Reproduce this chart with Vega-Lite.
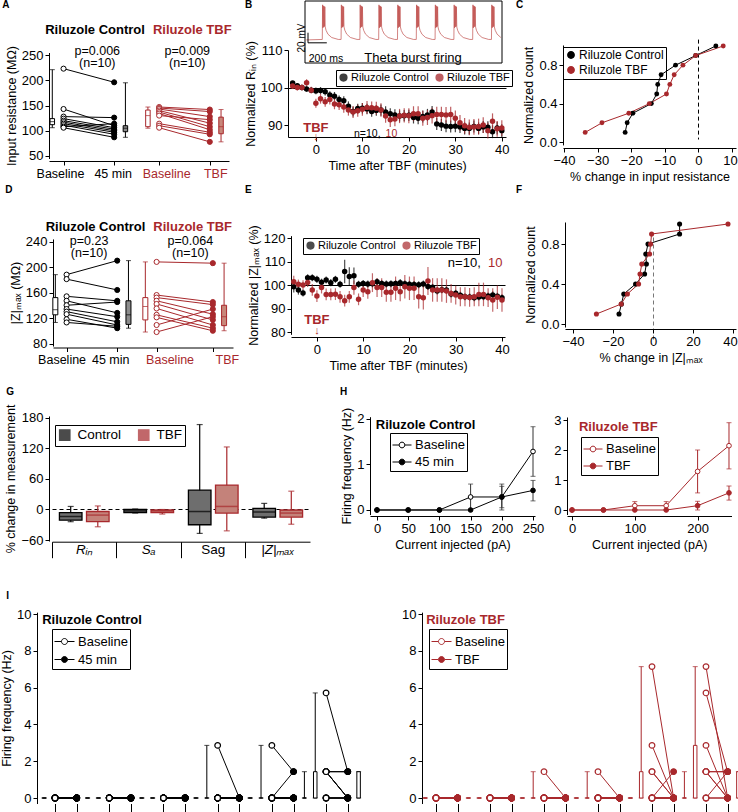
{
"$schema": "https://vega.github.io/schema/vega-lite/v6.json",
"padding": 0,
"background": "white",
"spacing": 0,
"resolve": {"scale": {"color": "independent", "fill": "independent", "stroke": "independent"}},
"config": {
 "font": "Liberation Sans",
 "view": {"stroke": null},
 "axis": {"grid": false, "domainColor": "black", "tickColor": "black", "labelColor": "black", "titleColor": "black", "labelFontSize": 13, "titleFontSize": 12.5, "titleFontWeight": "normal", "tickSize": 4, "labelPadding": 2, "titlePadding": 3, "labelOverlap": false, "labelFont": "Liberation Sans", "titleFont": "Liberation Sans", "domainWidth": 1, "tickWidth": 1},
 "legend": {"labelFont": "Liberation Sans", "labelColor": "black", "labelFontSize": 12},
 "text": {"font": "Liberation Sans", "fontSize": 13, "color": "black"}
},
"datasets": {
 "one": [{}],
 "Aw": [
  {"i":1,"g":"c","cb":223,"cp":196},{"i":2,"g":"c","cb":143,"cp":110},{"i":3,"g":"c","cb":128,"cp":126},{"i":4,"g":"c","cb":124,"cp":106},{"i":5,"g":"c","cb":120,"cp":103},{"i":6,"g":"c","cb":117,"cp":100},{"i":7,"g":"c","cb":114,"cp":97},{"i":8,"g":"c","cb":111,"cp":93},{"i":9,"g":"c","cb":108,"cp":114},{"i":10,"g":"c","cb":106,"cp":87},
  {"i":11,"g":"t","tb":147,"tp":142},{"i":12,"g":"t","tb":145,"tp":138},{"i":13,"g":"t","tb":143,"tp":128},{"i":14,"g":"t","tb":140,"tp":115},{"i":15,"g":"t","tb":137,"tp":108},{"i":16,"g":"t","tb":134,"tp":102},{"i":17,"g":"t","tb":130,"tp":122},{"i":18,"g":"t","tb":114,"tp":97},{"i":19,"g":"t","tb":110,"tp":93},{"i":20,"g":"t","tb":106,"tp":78}],
 "Ab": [
  {"s":"cbx","g":"c","lo":106,"q1":112,"md":118,"q3":124,"hi":221},
  {"s":"cpx","g":"c","lo":87,"q1":98,"md":105,"q3":110,"hi":195},
  {"s":"tbx","g":"t","lo":105,"q1":108,"md":130,"q3":141,"hi":147},
  {"s":"tpx","g":"t","lo":78,"q1":94,"md":108,"q3":127,"hi":142}],
 "Dw": [
  {"i":1,"g":"c","cb":188,"cp":210},{"i":2,"g":"c","cb":181,"cp":164},{"i":3,"g":"c","cb":154,"cp":147},{"i":4,"g":"c","cb":147,"cp":128},{"i":5,"g":"c","cb":140,"cp":145},{"i":6,"g":"c","cb":134,"cp":122},{"i":7,"g":"c","cb":130,"cp":114},{"i":8,"g":"c","cb":126,"cp":109},{"i":9,"g":"c","cb":118,"cp":104},{"i":10,"g":"c","cb":113,"cp":107},
  {"i":11,"g":"t","tb":208,"tp":206},{"i":12,"g":"t","tb":156,"tp":145},{"i":13,"g":"t","tb":152,"tp":141},{"i":14,"g":"t","tb":147,"tp":126},{"i":15,"g":"t","tb":142,"tp":117},{"i":16,"g":"t","tb":135,"tp":109},{"i":17,"g":"t","tb":125,"tp":104},{"i":18,"g":"t","tb":121,"tp":100},{"i":19,"g":"t","tb":109,"tp":134},{"i":20,"g":"t","tb":98,"tp":122}],
 "Db": [
  {"s":"cbx","g":"c","lo":113,"q1":125,"md":133,"q3":152,"hi":188},
  {"s":"cpx","g":"c","lo":104,"q1":110,"md":125,"q3":147,"hi":210},
  {"s":"tbx","g":"t","lo":98,"q1":117,"md":138,"q3":152,"hi":208},
  {"s":"tpx","g":"t","lo":100,"q1":108,"md":122,"q3":140,"hi":206}],
 "Bt": [
  {"t":-170,"v":-65},
  {"t":0,"v":-64},{"t":3,"v":8},{"t":7,"v":-40},{"t":11,"v":6},{"t":15,"v":-38},{"t":19,"v":5},{"t":23,"v":-37},{"t":27,"v":4},{"t":31,"v":-38},{"t":40,"v":-45},{"t":60,"v":-53},{"t":100,"v":-60},{"t":170,"v":-64},
  {"t":200,"v":-64},{"t":203,"v":8},{"t":207,"v":-40},{"t":211,"v":6},{"t":215,"v":-38},{"t":219,"v":5},{"t":223,"v":-37},{"t":227,"v":4},{"t":231,"v":-38},{"t":240,"v":-45},{"t":260,"v":-53},{"t":300,"v":-60},{"t":370,"v":-64},
  {"t":400,"v":-64},{"t":403,"v":8},{"t":407,"v":-40},{"t":411,"v":6},{"t":415,"v":-38},{"t":419,"v":5},{"t":423,"v":-37},{"t":427,"v":4},{"t":431,"v":-38},{"t":440,"v":-45},{"t":460,"v":-53},{"t":500,"v":-60},{"t":570,"v":-64},
  {"t":600,"v":-64},{"t":603,"v":8},{"t":607,"v":-40},{"t":611,"v":6},{"t":615,"v":-38},{"t":619,"v":5},{"t":623,"v":-37},{"t":627,"v":4},{"t":631,"v":-38},{"t":640,"v":-45},{"t":660,"v":-53},{"t":700,"v":-60},{"t":770,"v":-64},
  {"t":800,"v":-64},{"t":803,"v":8},{"t":807,"v":-40},{"t":811,"v":6},{"t":815,"v":-38},{"t":819,"v":5},{"t":823,"v":-37},{"t":827,"v":4},{"t":831,"v":-38},{"t":840,"v":-45},{"t":860,"v":-53},{"t":900,"v":-60},{"t":970,"v":-64},
  {"t":1000,"v":-64},{"t":1003,"v":8},{"t":1007,"v":-40},{"t":1011,"v":6},{"t":1015,"v":-38},{"t":1019,"v":5},{"t":1023,"v":-37},{"t":1027,"v":4},{"t":1031,"v":-38},{"t":1040,"v":-45},{"t":1060,"v":-53},{"t":1100,"v":-60},{"t":1170,"v":-64},
  {"t":1200,"v":-64},{"t":1203,"v":8},{"t":1207,"v":-40},{"t":1211,"v":6},{"t":1215,"v":-38},{"t":1219,"v":5},{"t":1223,"v":-37},{"t":1227,"v":4},{"t":1231,"v":-38},{"t":1240,"v":-45},{"t":1260,"v":-53},{"t":1300,"v":-60},{"t":1370,"v":-64},
  {"t":1400,"v":-64},{"t":1403,"v":8},{"t":1407,"v":-40},{"t":1411,"v":6},{"t":1415,"v":-38},{"t":1419,"v":5},{"t":1423,"v":-37},{"t":1427,"v":4},{"t":1431,"v":-38},{"t":1440,"v":-45},{"t":1460,"v":-53},{"t":1500,"v":-60},{"t":1570,"v":-64},
  {"t":1600,"v":-64},{"t":1603,"v":8},{"t":1607,"v":-40},{"t":1611,"v":6},{"t":1615,"v":-38},{"t":1619,"v":5},{"t":1623,"v":-37},{"t":1627,"v":4},{"t":1631,"v":-38},{"t":1640,"v":-45},{"t":1660,"v":-53},{"t":1700,"v":-60},{"t":1770,"v":-64},
  {"t":1800,"v":-64},{"t":1803,"v":8},{"t":1807,"v":-40},{"t":1811,"v":6},{"t":1815,"v":-38},{"t":1819,"v":5},{"t":1823,"v":-37},{"t":1827,"v":4},{"t":1831,"v":-38},{"t":1840,"v":-45},{"t":1860,"v":-53},{"t":1900,"v":-60}],
 "B": [
  {"t":-5,"g":"C","m":101.2,"e":0.5},{"t":-4,"g":"C","m":100.5,"e":0.6},{"t":-3,"g":"C","m":100.0,"e":0.6},{"t":-2,"g":"C","m":99.6,"e":0.7},{"t":-1,"g":"C","m":99.3,"e":0.7},{"t":0,"g":"C","m":99.1,"e":0.9},{"t":1,"g":"C","m":99.2,"e":0.9},{"t":2,"g":"C","m":98.9,"e":1.0},{"t":3,"g":"C","m":98.0,"e":1.0},{"t":4,"g":"C","m":97.7,"e":1.1},{"t":5,"g":"C","m":96.8,"e":1.1},{"t":6,"g":"C","m":96.5,"e":1.2},{"t":7,"g":"C","m":95.0,"e":1.3},{"t":8,"g":"C","m":93.6,"e":1.3},{"t":9,"g":"C","m":94.4,"e":1.3},{"t":10,"g":"C","m":94.5,"e":1.4},{"t":11,"g":"C","m":94.3,"e":1.4},{"t":12,"g":"C","m":93.6,"e":1.4},{"t":13,"g":"C","m":93.9,"e":1.4},{"t":14,"g":"C","m":94.0,"e":1.5},{"t":15,"g":"C","m":93.5,"e":1.5},{"t":16,"g":"C","m":93.0,"e":1.5},{"t":17,"g":"C","m":92.7,"e":1.5},{"t":18,"g":"C","m":92.4,"e":1.5},{"t":19,"g":"C","m":92.5,"e":1.5},{"t":20,"g":"C","m":92.6,"e":1.5},{"t":21,"g":"C","m":92.0,"e":1.6},{"t":22,"g":"C","m":91.8,"e":1.6},{"t":23,"g":"C","m":92.3,"e":1.6},{"t":24,"g":"C","m":92.7,"e":1.6},{"t":25,"g":"C","m":93.5,"e":1.6},{"t":26,"g":"C","m":90.3,"e":1.6},{"t":27,"g":"C","m":90.0,"e":1.6},{"t":28,"g":"C","m":89.7,"e":1.6},{"t":29,"g":"C","m":89.6,"e":1.6},{"t":30,"g":"C","m":89.7,"e":1.6},{"t":31,"g":"C","m":89.5,"e":1.6},{"t":32,"g":"C","m":89.1,"e":1.6},{"t":33,"g":"C","m":89.1,"e":1.6},{"t":34,"g":"C","m":89.6,"e":1.6},{"t":35,"g":"C","m":89.1,"e":1.6},{"t":36,"g":"C","m":89.5,"e":1.6},{"t":37,"g":"C","m":89.4,"e":1.6},{"t":38,"g":"C","m":88.2,"e":1.7},{"t":39,"g":"C","m":89.2,"e":1.7},{"t":40,"g":"C","m":88.5,"e":1.7},
  {"t":-5,"g":"T","m":100.4,"e":0.8},{"t":-4,"g":"T","m":100.0,"e":0.8},{"t":-3,"g":"T","m":100.0,"e":0.8},{"t":-2,"g":"T","m":101.3,"e":0.9},{"t":-1,"g":"T","m":99.3,"e":0.9},{"t":0,"g":"T","m":95.8,"e":1.2},{"t":1,"g":"T","m":97.0,"e":1.3},{"t":2,"g":"T","m":96.2,"e":1.3},{"t":3,"g":"T","m":96.8,"e":1.3},{"t":4,"g":"T","m":95.6,"e":1.4},{"t":5,"g":"T","m":95.4,"e":1.4},{"t":6,"g":"T","m":94.8,"e":1.5},{"t":7,"g":"T","m":94.0,"e":1.5},{"t":8,"g":"T","m":93.5,"e":1.6},{"t":9,"g":"T","m":93.8,"e":1.6},{"t":10,"g":"T","m":94.2,"e":1.7},{"t":11,"g":"T","m":94.7,"e":1.7},{"t":12,"g":"T","m":94.6,"e":1.7},{"t":13,"g":"T","m":94.5,"e":1.7},{"t":14,"g":"T","m":94.0,"e":1.8},{"t":15,"g":"T","m":92.4,"e":1.8},{"t":16,"g":"T","m":91.4,"e":1.9},{"t":17,"g":"T","m":91.6,"e":1.9},{"t":18,"g":"T","m":92.4,"e":1.9},{"t":19,"g":"T","m":92.6,"e":1.9},{"t":20,"g":"T","m":92.5,"e":2.0},{"t":21,"g":"T","m":93.0,"e":2.0},{"t":22,"g":"T","m":93.0,"e":2.0},{"t":23,"g":"T","m":91.8,"e":2.0},{"t":24,"g":"T","m":92.0,"e":2.0},{"t":25,"g":"T","m":92.5,"e":2.1},{"t":26,"g":"T","m":92.8,"e":2.1},{"t":27,"g":"T","m":92.8,"e":2.1},{"t":28,"g":"T","m":92.7,"e":2.1},{"t":29,"g":"T","m":92.8,"e":2.1},{"t":30,"g":"T","m":91.8,"e":2.1},{"t":31,"g":"T","m":90.6,"e":2.1},{"t":32,"g":"T","m":89.8,"e":2.1},{"t":33,"g":"T","m":89.4,"e":2.1},{"t":34,"g":"T","m":89.5,"e":2.1},{"t":35,"g":"T","m":89.6,"e":2.1},{"t":36,"g":"T","m":90.0,"e":2.1},{"t":37,"g":"T","m":88.5,"e":2.1},{"t":38,"g":"T","m":91.0,"e":2.1},{"t":39,"g":"T","m":89.0,"e":2.1},{"t":40,"g":"T","m":89.2,"e":2.1}],
 "E": [
  {"t":-5,"g":"C","m":99.3,"e":2.5},{"t":-4,"g":"C","m":97.9,"e":2},{"t":-3,"g":"C","m":96.6,"e":1.5},{"t":-2,"g":"C","m":103.1,"e":1.5},{"t":-1,"g":"C","m":103.1,"e":1.5},{"t":0,"g":"C","m":102.4,"e":1.5},{"t":1,"g":"C","m":101.2,"e":1.5},{"t":2,"g":"C","m":102.1,"e":1.5},{"t":3,"g":"C","m":101.0,"e":1.5},{"t":4,"g":"C","m":102.4,"e":1.5},{"t":5,"g":"C","m":100.3,"e":1.5},{"t":6,"g":"C","m":105.7,"e":5},{"t":7,"g":"C","m":103.6,"e":4},{"t":8,"g":"C","m":103.9,"e":3.5},{"t":9,"g":"C","m":100.3,"e":1.5},{"t":10,"g":"C","m":100.6,"e":1.5},{"t":11,"g":"C","m":100.4,"e":1.5},{"t":12,"g":"C","m":100.5,"e":1.5},{"t":13,"g":"C","m":101.4,"e":1.5},{"t":14,"g":"C","m":100.6,"e":1.5},{"t":15,"g":"C","m":100.4,"e":1.5},{"t":16,"g":"C","m":100.5,"e":1.5},{"t":17,"g":"C","m":100.6,"e":1.5},{"t":18,"g":"C","m":101.0,"e":1.5},{"t":19,"g":"C","m":100.5,"e":1.5},{"t":20,"g":"C","m":100.3,"e":1.5},{"t":21,"g":"C","m":100.2,"e":1.5},{"t":22,"g":"C","m":100.1,"e":1.5},{"t":23,"g":"C","m":100.4,"e":1.5},{"t":24,"g":"C","m":99.4,"e":1.5},{"t":25,"g":"C","m":99.0,"e":1.5},{"t":26,"g":"C","m":97.5,"e":1.5},{"t":27,"g":"C","m":98.0,"e":1.5},{"t":28,"g":"C","m":97.9,"e":1.5},{"t":29,"g":"C","m":96.2,"e":1.5},{"t":30,"g":"C","m":96.5,"e":1.5},{"t":31,"g":"C","m":95.6,"e":1.5},{"t":32,"g":"C","m":95.0,"e":1.5},{"t":33,"g":"C","m":94.9,"e":1.5},{"t":34,"g":"C","m":94.6,"e":1.5},{"t":35,"g":"C","m":94.9,"e":1.5},{"t":36,"g":"C","m":95.0,"e":1.5},{"t":37,"g":"C","m":95.3,"e":1.5},{"t":38,"g":"C","m":95.8,"e":1.5},{"t":39,"g":"C","m":95.2,"e":1.5},{"t":40,"g":"C","m":94.6,"e":1.5},
  {"t":-5,"g":"T","m":101.4,"e":2.5},{"t":-4,"g":"T","m":100.3,"e":2},{"t":-3,"g":"T","m":100.0,"e":2},{"t":-2,"g":"T","m":101.1,"e":2},{"t":-1,"g":"T","m":97.9,"e":2.5},{"t":0,"g":"T","m":95.3,"e":2.5},{"t":1,"g":"T","m":98.9,"e":2.5},{"t":2,"g":"T","m":96.0,"e":2.5},{"t":3,"g":"T","m":96.0,"e":2.5},{"t":4,"g":"T","m":96.1,"e":2.5},{"t":5,"g":"T","m":95.0,"e":2.5},{"t":6,"g":"T","m":93.3,"e":2.5},{"t":7,"g":"T","m":95.0,"e":2.5},{"t":8,"g":"T","m":98.9,"e":3},{"t":9,"g":"T","m":93.9,"e":2.5},{"t":10,"g":"T","m":97.9,"e":3},{"t":11,"g":"T","m":97.1,"e":3},{"t":12,"g":"T","m":101.0,"e":4},{"t":13,"g":"T","m":98.9,"e":4},{"t":14,"g":"T","m":98.9,"e":4},{"t":15,"g":"T","m":96.9,"e":4},{"t":16,"g":"T","m":96.9,"e":4},{"t":17,"g":"T","m":98.6,"e":5},{"t":18,"g":"T","m":97.1,"e":4},{"t":19,"g":"T","m":99.3,"e":5},{"t":20,"g":"T","m":98.6,"e":5},{"t":21,"g":"T","m":98.6,"e":5},{"t":22,"g":"T","m":95.0,"e":5},{"t":23,"g":"T","m":94.6,"e":5},{"t":24,"g":"T","m":101.7,"e":6},{"t":25,"g":"T","m":97.9,"e":5},{"t":26,"g":"T","m":97.9,"e":5},{"t":27,"g":"T","m":97.9,"e":5},{"t":28,"g":"T","m":97.4,"e":5},{"t":29,"g":"T","m":96.4,"e":4},{"t":30,"g":"T","m":95.7,"e":4},{"t":31,"g":"T","m":95.0,"e":4},{"t":32,"g":"T","m":95.0,"e":4},{"t":33,"g":"T","m":94.7,"e":4},{"t":34,"g":"T","m":95.0,"e":4},{"t":35,"g":"T","m":96.0,"e":5},{"t":36,"g":"T","m":96.0,"e":5},{"t":37,"g":"T","m":94.6,"e":4},{"t":38,"g":"T","m":93.6,"e":5},{"t":39,"g":"T","m":94.8,"e":5},{"t":40,"g":"T","m":93.6,"e":5}],
 "C": [
  {"g":"C","p":-21.8,"n":0.1},{"g":"C","p":-21.2,"n":0.2},{"g":"C","p":-19.5,"n":0.3},{"g":"C","p":-14,"n":0.4},{"g":"C","p":-12.4,"n":0.5},{"g":"C","p":-12.1,"n":0.6},{"g":"C","p":-11.1,"n":0.7},{"g":"C","p":-6.8,"n":0.8},{"g":"C","p":-0.8,"n":0.9},{"g":"C","p":5.2,"n":1.0},
  {"g":"T","p":-33.7,"n":0.1},{"g":"T","p":-28.7,"n":0.2},{"g":"T","p":-20.7,"n":0.3},{"g":"T","p":-14.6,"n":0.4},{"g":"T","p":-9.5,"n":0.5},{"g":"T","p":-8.5,"n":0.6},{"g":"T","p":-7.2,"n":0.7},{"g":"T","p":-4.6,"n":0.8},{"g":"T","p":-0.8,"n":0.9},{"g":"T","p":7.4,"n":1.0}],
 "F": [
  {"g":"C","p":-17,"n":0.1},{"g":"C","p":-15.8,"n":0.2},{"g":"C","p":-14.6,"n":0.3},{"g":"C","p":-8.7,"n":0.4},{"g":"C","p":-4.2,"n":0.5},{"g":"C","p":-3.3,"n":0.6},{"g":"C","p":-3.6,"n":0.7},{"g":"C","p":-2.5,"n":0.8},{"g":"C","p":13.3,"n":0.9},{"g":"C","p":13.3,"n":1.0},
  {"g":"T","p":-28.3,"n":0.1},{"g":"T","p":-15.9,"n":0.2},{"g":"T","p":-12.8,"n":0.3},{"g":"T","p":-7.2,"n":0.4},{"g":"T","p":-6.5,"n":0.5},{"g":"T","p":-5.6,"n":0.6},{"g":"T","p":-1.7,"n":0.7},{"g":"T","p":-1.2,"n":0.8},{"g":"T","p":-0.7,"n":0.9},{"g":"T","p":37.5,"n":1.0}],
 "G": [
  {"c":"Rin","g":"Control","lo":-24,"q1":-21,"md":-14,"q3":-6,"hi":6},
  {"c":"Rin","g":"TBF","lo":-34,"q1":-24,"md":-11,"q3":-4,"hi":7},
  {"c":"Sa","g":"Control","lo":-7,"q1":-6,"md":-3,"q3":0,"hi":1},
  {"c":"Sa","g":"TBF","lo":-9,"q1":-6,"md":-3,"q3":-1,"hi":0},
  {"c":"Sag","g":"Control","lo":-47,"q1":-30,"md":-4,"q3":38,"hi":167},
  {"c":"Sag","g":"TBF","lo":-42,"q1":-7,"md":6,"q3":48,"hi":123},
  {"c":"Zmax","g":"Control","lo":-17,"q1":-15,"md":-5,"q3":2,"hi":12},
  {"c":"Zmax","g":"TBF","lo":-29,"q1":-15,"md":-7,"q3":-1,"hi":36}],
 "Glab": [{"c":"Rin","t":"Rᵢₙ","it":1},{"c":"Sa","t":"Sₐ","it":1},{"c":"Sag","t":"Sag","it":0},{"c":"Zmax","t":"|Z|ₘₐₓ","it":1}],
 "H1": [
  {"c":0,"k":"Baseline","m":0},{"c":50,"k":"Baseline","m":0},{"c":100,"k":"Baseline","m":0},{"c":150,"k":"Baseline","m":0.286,"lo":0,"hi":0.57},{"c":200,"k":"Baseline","m":0.286,"lo":0,"hi":0.57},{"c":250,"k":"Baseline","m":1.286,"lo":0.74,"hi":1.83},
  {"c":0,"k":"45 min","m":0},{"c":50,"k":"45 min","m":0},{"c":100,"k":"45 min","m":0},{"c":150,"k":"45 min","m":0},{"c":200,"k":"45 min","m":0.286,"lo":0.05,"hi":0.52},{"c":250,"k":"45 min","m":0.43,"lo":0.2,"hi":0.65}],
 "H2": [
  {"c":0,"k":"Baseline","m":0},{"c":50,"k":"Baseline","m":0},{"c":100,"k":"Baseline","m":0.143,"lo":0.01,"hi":0.28},{"c":150,"k":"Baseline","m":0.143,"lo":0.01,"hi":0.28},{"c":200,"k":"Baseline","m":1.286,"lo":0.57,"hi":2.0},{"c":250,"k":"Baseline","m":2.143,"lo":1.37,"hi":2.91},
  {"c":0,"k":"TBF","m":0},{"c":50,"k":"TBF","m":0},{"c":100,"k":"TBF","m":0},{"c":150,"k":"TBF","m":0},{"c":200,"k":"TBF","m":0.143,"lo":0.0,"hi":0.29},{"c":250,"k":"TBF","m":0.571,"lo":0.33,"hi":0.8}],
 "I1": [
  {"i":1,"b0":0,"p0":0,"b50":0,"p50":0,"b100":0,"p100":0,"b150":2.86,"p150":0,"b200":2.86,"p200":1.43,"b250":5.71,"p250":1.43},
  {"i":2,"b0":0,"p0":0,"b50":0,"p50":0,"b100":0,"p100":0,"b150":0,"p150":0,"b200":0,"p200":1.43,"b250":1.43,"p250":1.43},
  {"i":3,"b0":0,"p0":0,"b50":0,"p50":0,"b100":0,"p100":0,"b150":0,"p150":0,"b200":0,"p200":0,"b250":1.43,"p250":1.43},
  {"i":4,"b0":0,"p0":0,"b50":0,"p50":0,"b100":0,"p100":0,"b150":0,"p150":0,"b200":0,"p200":0,"b250":1.43,"p250":0},
  {"i":5,"b0":0,"p0":0,"b50":0,"p50":0,"b100":0,"p100":0,"b150":0,"p150":0,"b200":0,"p200":0,"b250":1.43,"p250":0},
  {"i":6,"b0":0,"p0":0,"b50":0,"p50":0,"b100":0,"p100":0,"b150":0,"p150":0,"b200":0,"p200":0,"b250":1.43,"p250":0},
  {"i":7,"b0":0,"p0":0,"b50":0,"p50":0,"b100":0,"p100":0,"b150":0,"p150":0,"b200":0,"p200":0,"b250":0,"p250":0},
  {"i":8,"b0":0,"p0":0,"b50":0,"p50":0,"b100":0,"p100":0,"b150":0,"p150":0,"b200":0,"p200":0,"b250":0,"p250":0},
  {"i":9,"b0":0,"p0":0,"b50":0,"p50":0,"b100":0,"p100":0,"b150":0,"p150":0,"b200":0,"p200":0,"b250":0,"p250":0},
  {"i":10,"b0":0,"p0":0,"b50":0,"p50":0,"b100":0,"p100":0,"b150":0,"p150":0,"b200":0,"p200":0,"b250":0,"p250":0}],
 "I2": [
  {"i":1,"b0":0,"p0":0,"b50":0,"p50":0,"b100":1.43,"p100":0,"b150":1.43,"p150":0,"b200":7.14,"p200":0,"b250":7.14,"p250":0},
  {"i":2,"b0":0,"p0":0,"b50":0,"p50":0,"b100":0,"p100":0,"b150":0,"p150":0,"b200":2.86,"p200":0,"b250":5.71,"p250":1.43},
  {"i":3,"b0":0,"p0":0,"b50":0,"p50":0,"b100":0,"p100":0,"b150":0,"p150":0,"b200":1.43,"p200":0,"b250":2.86,"p250":0},
  {"i":4,"b0":0,"p0":0,"b50":0,"p50":0,"b100":0,"p100":0,"b150":0,"p150":0,"b200":1.43,"p200":0,"b250":1.43,"p250":1.43},
  {"i":5,"b0":0,"p0":0,"b50":0,"p50":0,"b100":0,"p100":0,"b150":0,"p150":0,"b200":0,"p200":1.43,"b250":1.43,"p250":1.43},
  {"i":6,"b0":0,"p0":0,"b50":0,"p50":0,"b100":0,"p100":0,"b150":0,"p150":0,"b200":0,"p200":0,"b250":1.43,"p250":0},
  {"i":7,"b0":0,"p0":0,"b50":0,"p50":0,"b100":0,"p100":0,"b150":0,"p150":0,"b200":0,"p200":0,"b250":1.43,"p250":0},
  {"i":8,"b0":0,"p0":0,"b50":0,"p50":0,"b100":0,"p100":0,"b150":0,"p150":0,"b200":0,"p200":0,"b250":0,"p250":1.43},
  {"i":9,"b0":0,"p0":0,"b50":0,"p50":0,"b100":0,"p100":0,"b150":0,"p150":0,"b200":0,"p200":0,"b250":0,"p250":0},
  {"i":10,"b0":0,"p0":0,"b50":0,"p50":0,"b100":0,"p100":0,"b150":0,"p150":0,"b200":0,"p200":0,"b250":0,"p250":0}],
 "I1b": [
  {"s":"a0","lo":0,"q1":0,"q3":0,"hi":0},{"s":"q0","lo":0,"q1":0,"q3":0,"hi":0},
  {"s":"a50","lo":0,"q1":0,"q3":0,"hi":0},{"s":"q50","lo":0,"q1":0,"q3":0,"hi":0},
  {"s":"a100","lo":0,"q1":0,"q3":0,"hi":0},{"s":"q100","lo":0,"q1":0,"q3":0,"hi":0},
  {"s":"a150","lo":0,"q1":0,"q3":0,"hi":2.86},{"s":"q150","lo":0,"q1":0,"q3":0,"hi":0},
  {"s":"a200","lo":0,"q1":0,"q3":0,"hi":2.86},{"s":"q200","lo":0,"q1":0,"q3":0,"hi":1.43},
  {"s":"a250","lo":0,"q1":0,"q3":1.43,"hi":5.71},{"s":"q250","lo":0,"q1":0,"q3":1.43,"hi":1.43}],
 "I2b": [
  {"s":"a0","lo":0,"q1":0,"q3":0,"hi":0},{"s":"q0","lo":0,"q1":0,"q3":0,"hi":0},
  {"s":"a50","lo":0,"q1":0,"q3":0,"hi":0},{"s":"q50","lo":0,"q1":0,"q3":0,"hi":0},
  {"s":"a100","lo":0,"q1":0,"q3":0,"hi":1.43},{"s":"q100","lo":0,"q1":0,"q3":0,"hi":0},
  {"s":"a150","lo":0,"q1":0,"q3":0,"hi":1.43},{"s":"q150","lo":0,"q1":0,"q3":0,"hi":0},
  {"s":"a200","lo":0,"q1":0,"q3":1.43,"hi":7.14},{"s":"q200","lo":0,"q1":0,"q3":0,"hi":1.43},
  {"s":"a250","lo":0,"q1":0,"q3":2.86,"hi":7.14},{"s":"q250","lo":0,"q1":0,"q3":1.43,"hi":1.43}]
},
"vconcat": [
 {"hconcat": [
  {"width": 240, "height": 184,
   "layer": [
    {"data": {"name": "Ab"}, "mark": {"type": "rule", "strokeWidth": 1},
     "encoding": {
      "x": {"field": "s", "type": "nominal", "scale": {"type": "point", "domain": ["cbx","_1","cb","_3","_4","_5","_6","_7","_8","_9","_10","cp","_12","cpx","_14","_15","_16","tbx","_18","tb","_20","_21","_22","_23","_24","_25","_26","_27","tp","_29","tpx"], "range": [46, 226], "padding": 2.3077, "align": 0.2917},
            "axis": {"values": ["cb","cp","tb","tp"], "labelAngle": 0, "labelFontSize": 12.5, "labelOverlap": false, "labelExpr": "datum.value == 'cp' ? '45 min' : datum.value == 'tp' ? 'TBF' : 'Baseline'", "labelOffset": {"expr": "datum.value == 'cb' ? -3.5 : datum.value == 'cp' ? -1.5 : datum.value == 'tb' ? 7 : 5.5"}, "labelColor": {"condition": {"test": "datum.value == 'tb' || datum.value == 'tp'", "value": "#a8282c"}, "value": "black"}, "offset": -23, "title": null}},
      "y": {"field": "lo", "type": "quantitative", "scale": {"domain": [45, 255], "range": [158.5, 52.5], "nice": false, "zero": false}, "axis": {"values": [50,100,150,200,250], "labelOverlap": false, "offset": -46, "title": "Input resistance (MΩ)"}},
      "y2": {"field": "hi"},
      "color": {"field": "g", "type": "nominal", "scale": {"domain": ["c","t"], "range": ["black","#a8282c"]}, "legend": null}}},
    {"data": {"name": "Ab"}, "mark": {"type": "tick", "size": 5, "thickness": 1}, "encoding": {"x": {"field": "s", "type": "nominal"}, "y": {"field": "lo", "type": "quantitative"}, "color": {"field": "g", "type": "nominal"}}},
    {"data": {"name": "Ab"}, "mark": {"type": "tick", "size": 5, "thickness": 1}, "encoding": {"x": {"field": "s", "type": "nominal"}, "y": {"field": "hi", "type": "quantitative"}, "color": {"field": "g", "type": "nominal"}}},
    {"data": {"name": "Ab"}, "mark": {"type": "bar", "width": 4.5, "strokeWidth": 1},
     "encoding": {"x": {"field": "s", "type": "nominal"}, "y": {"field": "q1", "type": "quantitative"}, "y2": {"field": "q3"},
      "fill": {"field": "s", "type": "nominal", "scale": {"domain": ["cb","cp","tb","tp","cbx","cpx","tbx","tpx"], "range": ["#ffffff","#000000","#ffffff","#a8282c","#ffffff","#8c8c8c","#ffffff","#c8877a"]}, "legend": null},
      "stroke": {"field": "g", "type": "nominal", "scale": {"domain": ["c","t"], "range": ["black","#a8282c"]}, "legend": null}}},
    {"data": {"name": "Ab"}, "mark": {"type": "tick", "size": 4.5, "thickness": 1}, "encoding": {"x": {"field": "s", "type": "nominal"}, "y": {"field": "md", "type": "quantitative"}, "color": {"field": "g", "type": "nominal"}}},
    {"data": {"name": "Aw"}, "transform": [{"fold": ["cb","cp","tb","tp"], "as": ["s","v"]}, {"filter": "isValid(datum.v)"}],
     "mark": {"type": "line", "strokeWidth": 1},
     "encoding": {"x": {"field": "s", "type": "nominal"}, "y": {"field": "v", "type": "quantitative"}, "detail": {"field": "i", "type": "nominal"}, "color": {"field": "g", "type": "nominal"}}},
    {"data": {"name": "Aw"}, "transform": [{"fold": ["cb","cp","tb","tp"], "as": ["s","v"]}, {"filter": "isValid(datum.v)"}],
     "mark": {"type": "point", "filled": true, "size": 26, "strokeWidth": 1, "opacity": 1},
     "encoding": {"x": {"field": "s", "type": "nominal"}, "y": {"field": "v", "type": "quantitative"}, "fill": {"field": "s", "type": "nominal"}, "stroke": {"field": "g", "type": "nominal"}}},
    {"data": {"name": "one"}, "mark": {"type": "text", "fontWeight": "bold", "fontSize": 10, "align": "left", "dx": -50}, "encoding": {"x": {"datum": "cbx", "type": "nominal"}, "y": {"datum": 349, "type": "quantitative"}, "text": {"value": "A"}}},
    {"data": {"name": "one"}, "mark": {"type": "text", "fontWeight": "bold", "align": "right", "dx": -3}, "encoding": {"x": {"datum": "tbx", "type": "nominal"}, "y": {"datum": 300, "type": "quantitative"}, "text": {"value": "Riluzole Control"}}},
    {"data": {"name": "one"}, "mark": {"type": "text", "fontWeight": "bold", "align": "left", "dx": 5, "color": "#a8282c"}, "encoding": {"x": {"datum": "tbx", "type": "nominal"}, "y": {"datum": 300, "type": "quantitative"}, "text": {"value": "Riluzole TBF"}}},
    {"data": {"name": "one"}, "mark": {"type": "text", "fontSize": 12.5}, "encoding": {"x": {"datum": "_8", "type": "nominal"}, "y": {"datum": 258, "type": "quantitative"}, "text": {"value": "p=0.006"}}},
    {"data": {"name": "one"}, "mark": {"type": "text", "fontSize": 12.5}, "encoding": {"x": {"datum": "_8", "type": "nominal"}, "y": {"datum": 234, "type": "quantitative"}, "text": {"value": "(n=10)"}}},
    {"data": {"name": "one"}, "mark": {"type": "text", "fontSize": 12.5}, "encoding": {"x": {"datum": "_24", "type": "nominal"}, "y": {"datum": 258, "type": "quantitative"}, "text": {"value": "p=0.009"}}},
    {"data": {"name": "one"}, "mark": {"type": "text", "fontSize": 12.5}, "encoding": {"x": {"datum": "_24", "type": "nominal"}, "y": {"datum": 234, "type": "quantitative"}, "text": {"value": "(n=10)"}}}
   ]},
  {"width": 270, "height": 184,
   "layer": [
    {"layer": [
     {"data": {"name": "B"}, "mark": {"type": "errorbar", "ticks": false, "thickness": 1.2, "opacity": 0.75},
      "encoding": {
       "x": {"field": "t", "type": "quantitative", "scale": {"domain": [-6, 40.9], "range": [45, 263], "nice": false, "zero": false}, "axis": {"values": [0,10,20,30,40], "labelOverlap": false, "offset": -47, "title": "Time after TBF (minutes)"}},
       "y": {"field": "m", "type": "quantitative", "scale": {"domain": [86.8, 110], "range": [137, 50], "nice": false, "zero": false}, "axis": {"values": [90,100,110], "labelOverlap": false, "offset": -45, "title": "Normalized Rᵢₙ (%)", "grid": true, "gridColor": "black", "gridOpacity": {"condition": {"test": "datum.value === 100", "value": 1}, "value": 0}}},
       "yError": {"field": "e"},
       "color": {"field": "g", "type": "nominal", "scale": {"domain": ["C","T"], "range": ["black","#a8282c"]}, "legend": {"orient": "none", "legendX": 93, "legendY": 70, "direction": "horizontal", "title": null, "labelExpr": "datum.label == 'C' ? 'Riluzole Control' : 'Riluzole TBF'", "symbolType": "circle", "symbolSize": 45, "labelFontSize": 11, "strokeColor": "black", "padding": 2, "columnPadding": 4, "labelOffset": 2}}}},
     {"data": {"name": "B"}, "mark": {"type": "point", "filled": true, "size": 30, "opacity": 1},
      "encoding": {"x": {"field": "t", "type": "quantitative"}, "y": {"field": "m", "type": "quantitative"},
       "color": {"field": "g", "type": "nominal", "legend": {"orient": "none", "legendX": 93, "legendY": 70, "direction": "horizontal", "title": null, "labelExpr": "datum.label == 'C' ? 'Riluzole Control' : 'Riluzole TBF'", "symbolType": "circle", "symbolSize": 45, "labelFontSize": 11, "strokeColor": "black", "padding": 2, "columnPadding": 4, "labelOffset": 2}}}},
     {"data": {"name": "one"}, "mark": {"type": "text", "fontWeight": "bold", "fontSize": 10, "align": "left"}, "encoding": {"x": {"datum": -15.25, "type": "quantitative"}, "y": {"datum": 122, "type": "quantitative"}, "text": {"value": "B"}}},
     {"data": {"name": "one"}, "mark": {"type": "text", "fontWeight": "bold", "color": "#a8282c"}, "encoding": {"x": {"datum": 0, "type": "quantitative"}, "y": {"datum": 89.3, "type": "quantitative"}, "text": {"value": "TBF"}}},
     {"data": {"name": "one"}, "mark": {"type": "text", "fontSize": 11, "color": "#a8282c"}, "encoding": {"x": {"datum": 0, "type": "quantitative"}, "y": {"datum": 86.9, "type": "quantitative"}, "text": {"value": "↓"}}},
     {"data": {"name": "one"}, "mark": {"type": "text", "fontSize": 10.5, "align": "left"}, "encoding": {"x": {"datum": 8.2, "type": "quantitative"}, "y": {"datum": 87.6, "type": "quantitative"}, "text": {"value": "n=10,"}}},
     {"data": {"name": "one"}, "mark": {"type": "text", "fontSize": 10.5, "align": "left", "color": "#a8282c"}, "encoding": {"x": {"datum": 15, "type": "quantitative"}, "y": {"datum": 87.6, "type": "quantitative"}, "text": {"value": "10"}}}
    ]},
    {"layer": [
     {"data": {"name": "one"}, "mark": {"type": "rect", "fill": "white", "stroke": "black", "strokeWidth": 1},
      "encoding": {"x": {"datum": -184, "type": "quantitative", "scale": {"domain": [-184, 1912], "range": [62, 259], "nice": false, "zero": false}, "axis": null}, "x2": {"datum": 1912},
       "y": {"datum": -113, "type": "quantitative", "scale": {"domain": [-113, 16], "range": [63, 1], "nice": false, "zero": false}, "axis": null}, "y2": {"datum": 16}}},
     {"data": {"name": "Bt"}, "mark": {"type": "line", "stroke": "#c0504d", "strokeWidth": 0.7}, "encoding": {"x": {"field": "t", "type": "quantitative"}, "y": {"field": "v", "type": "quantitative"}}},
     {"data": {"name": "one"}, "mark": {"type": "rule", "stroke": "black", "strokeWidth": 1}, "encoding": {"x": {"datum": -152, "type": "quantitative"}, "y": {"datum": -71, "type": "quantitative"}, "y2": {"datum": -50}}},
     {"data": {"name": "one"}, "mark": {"type": "rule", "stroke": "black", "strokeWidth": 1}, "encoding": {"x": {"datum": -152, "type": "quantitative"}, "x2": {"datum": 48}, "y": {"datum": -71, "type": "quantitative"}}},
     {"data": {"name": "one"}, "mark": {"type": "text", "fontSize": 10, "angle": 270}, "encoding": {"x": {"datum": -216, "type": "quantitative"}, "y": {"datum": -61, "type": "quantitative"}, "text": {"value": "20 mV"}}},
     {"data": {"name": "one"}, "mark": {"type": "text", "fontSize": 10.5}, "encoding": {"x": {"datum": 39, "type": "quantitative"}, "y": {"datum": -104, "type": "quantitative"}, "text": {"value": "200 ms"}}},
     {"data": {"name": "one"}, "mark": {"type": "text", "fontSize": 13}, "encoding": {"x": {"datum": 965, "type": "quantitative"}, "y": {"datum": -102, "type": "quantitative"}, "text": {"value": "Theta burst firing"}}}
    ]}
   ],
   "resolve": {"scale": {"x": "independent", "y": "independent"}}},
  {"width": 228, "height": 184,
   "data": {"name": "C"},
   "layer": [
    {"mark": {"type": "line", "strokeWidth": 1},
     "encoding": {
      "x": {"field": "p", "type": "quantitative", "scale": {"domain": [-40.3, 11.2], "range": [50, 223], "nice": false, "zero": false}, "axis": {"values": [-40,-30,-20,-10,0,10], "labelOverlap": false, "labelOffset": {"expr": "datum.value == 10 ? -2 : 0"}, "offset": -36, "title": "% change in input resistance", "grid": true, "gridColor": "black", "gridDash": [4,3], "gridOpacity": {"condition": {"test": "datum.value === 0", "value": 1}, "value": 0}}},
      "y": {"field": "n", "type": "quantitative", "scale": {"domain": [-0.03, 1.01], "range": [144.9, 45], "nice": false, "zero": false}, "axis": {"values": [0,0.2,0.4,0.6,0.8,1.0], "labelOverlap": false, "format": ".1f", "offset": -50, "title": "Normalized count"}},
      "order": {"field": "n"},
      "color": {"field": "g", "type": "nominal", "scale": {"domain": ["C","T"], "range": ["black","#a8282c"]}, "legend": {"orient": "none", "legendX": 50, "legendY": 47, "direction": "vertical", "title": null, "labelExpr": "datum.label == 'C' ? 'Riluzole Control' : 'Riluzole TBF'", "symbolType": "circle", "symbolSize": 40, "labelFontSize": 12, "strokeColor": "black", "padding": 2, "rowPadding": 1, "labelOffset": 2}}}},
    {"mark": {"type": "point", "filled": true, "size": 24, "opacity": 1},
     "encoding": {"x": {"field": "p", "type": "quantitative"}, "y": {"field": "n", "type": "quantitative"},
      "color": {"field": "g", "type": "nominal", "legend": {"orient": "none", "legendX": 50, "legendY": 47, "direction": "vertical", "title": null, "labelExpr": "datum.label == 'C' ? 'Riluzole Control' : 'Riluzole TBF'", "symbolType": "circle", "symbolSize": 40, "labelFontSize": 12, "strokeColor": "black", "padding": 2, "rowPadding": 1, "labelOffset": 2}}}},
    {"data": {"name": "one"}, "mark": {"type": "text", "fontWeight": "bold", "fontSize": 10, "align": "left"}, "encoding": {"x": {"datum": -54.29, "type": "quantitative"}, "y": {"datum": 1.4264, "type": "quantitative"}, "text": {"value": "C"}}}
   ]}
 ], "spacing": 0, "bounds": "flush", "resolve": {"scale": {"color": "independent", "fill": "independent", "stroke": "independent"}}},
 {"hconcat": [
  {"width": 240, "height": 196,
   "layer": [
    {"data": {"name": "Db"}, "mark": {"type": "rule", "strokeWidth": 1},
     "encoding": {
      "x": {"field": "s", "type": "nominal", "scale": {"type": "point", "domain": ["cbx","_1","cb","_3","_4","_5","_6","_7","_8","_9","_10","cp","_12","cpx","_14","_15","tbx","_17","tb","_19","_20","_21","_22","_23","_24","_25","_26","_27","tp","_29","tpx"], "range": [50, 230], "padding": 2.3077, "align": 0.2083},
            "axis": {"values": ["cb","cp","tb","tp"], "labelAngle": 0, "labelFontSize": 12.5, "labelOverlap": false, "labelExpr": "datum.value == 'cp' ? '45 min' : datum.value == 'tp' ? 'TBF' : 'Baseline'", "labelOffset": {"expr": "datum.value == 'cb' ? -5 : datum.value == 'cp' ? -7 : datum.value == 'tb' ? 13 : 14"}, "labelColor": {"condition": {"test": "datum.value == 'tb' || datum.value == 'tp'", "value": "#a8282c"}, "value": "black"}, "offset": -32.5, "title": null}},
      "y": {"field": "lo", "type": "quantitative", "scale": {"domain": [76, 244], "range": [162.05, 54.95], "nice": false, "zero": false}, "axis": {"values": [80,120,160,200,240], "labelOverlap": false, "offset": -50, "title": "|Z|ₘₐₓ (MΩ)"}},
      "y2": {"field": "hi"},
      "color": {"field": "g", "type": "nominal", "scale": {"domain": ["c","t"], "range": ["black","#a8282c"]}, "legend": null}}},
    {"data": {"name": "Db"}, "mark": {"type": "tick", "size": 5, "thickness": 1}, "encoding": {"x": {"field": "s", "type": "nominal"}, "y": {"field": "lo", "type": "quantitative"}, "color": {"field": "g", "type": "nominal"}}},
    {"data": {"name": "Db"}, "mark": {"type": "tick", "size": 5, "thickness": 1}, "encoding": {"x": {"field": "s", "type": "nominal"}, "y": {"field": "hi", "type": "quantitative"}, "color": {"field": "g", "type": "nominal"}}},
    {"data": {"name": "Db"}, "mark": {"type": "bar", "width": 5, "strokeWidth": 1},
     "encoding": {"x": {"field": "s", "type": "nominal"}, "y": {"field": "q1", "type": "quantitative"}, "y2": {"field": "q3"},
      "fill": {"field": "s", "type": "nominal", "scale": {"domain": ["cb","cp","tb","tp","cbx","cpx","tbx","tpx"], "range": ["#ffffff","#000000","#ffffff","#a8282c","#ffffff","#8c8c8c","#ffffff","#c8877a"]}, "legend": null},
      "stroke": {"field": "g", "type": "nominal", "scale": {"domain": ["c","t"], "range": ["black","#a8282c"]}, "legend": null}}},
    {"data": {"name": "Db"}, "mark": {"type": "tick", "size": 5, "thickness": 1}, "encoding": {"x": {"field": "s", "type": "nominal"}, "y": {"field": "md", "type": "quantitative"}, "color": {"field": "g", "type": "nominal"}}},
    {"data": {"name": "Dw"}, "transform": [{"fold": ["cb","cp","tb","tp"], "as": ["s","v"]}, {"filter": "isValid(datum.v)"}],
     "mark": {"type": "line", "strokeWidth": 1},
     "encoding": {"x": {"field": "s", "type": "nominal"}, "y": {"field": "v", "type": "quantitative"}, "detail": {"field": "i", "type": "nominal"}, "color": {"field": "g", "type": "nominal"}}},
    {"data": {"name": "Dw"}, "transform": [{"fold": ["cb","cp","tb","tp"], "as": ["s","v"]}, {"filter": "isValid(datum.v)"}],
     "mark": {"type": "point", "filled": true, "size": 26, "strokeWidth": 1, "opacity": 1},
     "encoding": {"x": {"field": "s", "type": "nominal"}, "y": {"field": "v", "type": "quantitative"}, "fill": {"field": "s", "type": "nominal"}, "stroke": {"field": "g", "type": "nominal"}}},
    {"data": {"name": "one"}, "mark": {"type": "text", "fontWeight": "bold", "fontSize": 10, "align": "left", "dx": -50}, "encoding": {"x": {"datum": "cbx", "type": "nominal"}, "y": {"datum": 320.8, "type": "quantitative"}, "text": {"value": "D"}}},
    {"data": {"name": "one"}, "mark": {"type": "text", "fontWeight": "bold", "align": "right", "dx": 0}, "encoding": {"x": {"datum": "tbx", "type": "nominal"}, "y": {"datum": 262.7, "type": "quantitative"}, "text": {"value": "Riluzole Control"}}},
    {"data": {"name": "one"}, "mark": {"type": "text", "fontWeight": "bold", "align": "left", "dx": 8, "color": "#a8282c"}, "encoding": {"x": {"datum": "tbx", "type": "nominal"}, "y": {"datum": 262.7, "type": "quantitative"}, "text": {"value": "Riluzole TBF"}}},
    {"data": {"name": "one"}, "mark": {"type": "text", "fontSize": 12.5}, "encoding": {"x": {"datum": "_6", "type": "nominal"}, "y": {"datum": 240.5, "type": "quantitative"}, "text": {"value": "p=0.23"}}},
    {"data": {"name": "one"}, "mark": {"type": "text", "fontSize": 12.5}, "encoding": {"x": {"datum": "_6", "type": "nominal"}, "y": {"datum": 222, "type": "quantitative"}, "text": {"value": "(n=10)"}}},
    {"data": {"name": "one"}, "mark": {"type": "text", "fontSize": 12.5}, "encoding": {"x": {"datum": "_24", "type": "nominal"}, "y": {"datum": 240.5, "type": "quantitative"}, "text": {"value": "p=0.064"}}},
    {"data": {"name": "one"}, "mark": {"type": "text", "fontSize": 12.5}, "encoding": {"x": {"datum": "_24", "type": "nominal"}, "y": {"datum": 222, "type": "quantitative"}, "text": {"value": "(n=10)"}}}
   ]},
  {"width": 270, "height": 196,
   "layer": [
    {"data": {"name": "E"}, "mark": {"type": "errorbar", "ticks": false, "thickness": 1.2, "opacity": 0.7},
     "encoding": {
      "x": {"field": "t", "type": "quantitative", "scale": {"domain": [-5.6, 40.65], "range": [48, 262], "nice": false, "zero": false}, "axis": {"values": [0,10,20,30,40], "labelOverlap": false, "offset": -43, "title": "Time after TBF (minutes)"}},
      "y": {"field": "m", "type": "quantitative", "scale": {"domain": [79, 121], "range": [150.35, 51.65], "nice": false, "zero": false}, "axis": {"values": [80,90,100,110,120], "labelOverlap": false, "offset": -48, "title": "Normalized |Z|ₘₐₓ (%)", "grid": true, "gridColor": "black", "gridOpacity": {"condition": {"test": "datum.value === 100", "value": 1}, "value": 0}}},
      "yError": {"field": "e"},
      "color": {"field": "g", "type": "nominal", "scale": {"domain": ["C","T"], "range": ["black","#a8282c"]}, "legend": {"orient": "none", "legendX": 60, "legendY": 54, "direction": "horizontal", "title": null, "labelExpr": "datum.label == 'C' ? 'Riluzole Control' : 'Riluzole TBF'", "symbolType": "circle", "symbolSize": 45, "labelFontSize": 11, "strokeColor": "black", "padding": 2, "columnPadding": 4, "labelOffset": 2}}}},
    {"data": {"name": "E"}, "mark": {"type": "point", "filled": true, "size": 30, "opacity": 1},
     "encoding": {"x": {"field": "t", "type": "quantitative"}, "y": {"field": "m", "type": "quantitative"},
      "color": {"field": "g", "type": "nominal", "legend": {"orient": "none", "legendX": 60, "legendY": 54, "direction": "horizontal", "title": null, "labelExpr": "datum.label == 'C' ? 'Riluzole Control' : 'Riluzole TBF'", "symbolType": "circle", "symbolSize": 45, "labelFontSize": 11, "strokeColor": "black", "padding": 2, "columnPadding": 4, "labelOffset": 2}}}},
    {"data": {"name": "one"}, "mark": {"type": "text", "fontWeight": "bold", "fontSize": 10, "align": "left"}, "encoding": {"x": {"datum": -15.54, "type": "quantitative"}, "y": {"datum": 140.4, "type": "quantitative"}, "text": {"value": "E"}}},
    {"data": {"name": "one"}, "mark": {"type": "text", "fontWeight": "bold", "color": "#a8282c"}, "encoding": {"x": {"datum": 0, "type": "quantitative"}, "y": {"datum": 85.3, "type": "quantitative"}, "text": {"value": "TBF"}}},
    {"data": {"name": "one"}, "mark": {"type": "text", "fontSize": 11, "color": "#a8282c"}, "encoding": {"x": {"datum": 0, "type": "quantitative"}, "y": {"datum": 80.5, "type": "quantitative"}, "text": {"value": "↓"}}},
    {"data": {"name": "one"}, "mark": {"type": "text", "align": "left"}, "encoding": {"x": {"datum": 28.3, "type": "quantitative"}, "y": {"datum": 109.2, "type": "quantitative"}, "text": {"value": "n=10,"}}},
    {"data": {"name": "one"}, "mark": {"type": "text", "align": "left", "color": "#a8282c"}, "encoding": {"x": {"datum": 37, "type": "quantitative"}, "y": {"datum": 109.2, "type": "quantitative"}, "text": {"value": "10"}}}
   ]},
  {"width": 228, "height": 196,
   "data": {"name": "F"},
   "layer": [
    {"mark": {"type": "line", "strokeWidth": 1},
     "encoding": {
      "x": {"field": "p", "type": "quantitative", "scale": {"domain": [-44, 41.5], "range": [52, 223], "nice": false, "zero": false}, "axis": {"values": [-40,-20,0,20,40], "labelOverlap": false, "labelOffset": {"expr": "datum.value == 40 ? -3 : 0"}, "offset": -51, "title": "% change in |Z|ₘₐₓ", "grid": true, "gridColor": "#777777", "gridDash": [4,3], "gridOpacity": {"condition": {"test": "datum.value === 0", "value": 1}, "value": 0}}},
      "y": {"field": "n", "type": "quantitative", "scale": {"domain": [-0.03, 1.02], "range": [143, 38], "nice": false, "zero": false}, "axis": {"values": [0,0.2,0.4,0.6,0.8,1.0], "labelOverlap": false, "format": ".1f", "offset": -52, "title": "Normalized count"}},
      "order": {"field": "n"},
      "color": {"field": "g", "type": "nominal", "scale": {"domain": ["C","T"], "range": ["black","#a8282c"]}, "legend": null}}},
    {"mark": {"type": "point", "filled": true, "size": 26, "opacity": 1},
     "encoding": {"x": {"field": "p", "type": "quantitative"}, "y": {"field": "n", "type": "quantitative"}, "color": {"field": "g", "type": "nominal", "legend": null}}},
    {"data": {"name": "one"}, "mark": {"type": "text", "fontWeight": "bold", "fontSize": 10, "align": "left"}, "encoding": {"x": {"datum": -68.5, "type": "quantitative"}, "y": {"datum": 1.34, "type": "quantitative"}, "text": {"value": "F"}}}
   ]}
 ], "spacing": 0, "bounds": "flush", "resolve": {"scale": {"color": "independent", "fill": "independent", "stroke": "independent"}}},
 {"hconcat": [
  {"width": 330, "height": 210,
   "layer": [
    {"data": {"name": "G"}, "mark": {"type": "rule", "strokeWidth": 1.2},
     "encoding": {
      "x": {"field": "c", "type": "nominal", "scale": {"domain": ["Rin","Sa","Sag","Zmax"], "range": [49, 307], "paddingInner": 0, "paddingOuter": 0}, "axis": {"bandPosition": 0, "labels": false, "tickSize": 16, "offset": -48.3, "title": null}},
      "xOffset": {"field": "g", "type": "nominal", "scale": {"domain": ["Control","TBF"], "paddingInner": 0.167, "paddingOuter": 0.274}},
      "y": {"field": "lo", "type": "quantitative", "scale": {"domain": [-62, 183.9], "range": [161.02, 35.97], "nice": false, "zero": false}, "axis": {"values": [-60,0,60,120,180], "labelOverlap": false, "offset": -46, "title": "% change in measurement", "grid": true, "gridColor": "black", "gridDash": [4,3], "gridOpacity": {"condition": {"test": "datum.value === 0", "value": 1}, "value": 0}}},
      "y2": {"field": "hi"},
      "color": {"field": "g", "type": "nominal", "scale": {"domain": ["Control","TBF"], "range": ["black","#a8282c"]}, "legend": {"orient": "none", "legendX": 52, "legendY": 45, "direction": "horizontal", "title": null, "symbolType": "square", "symbolSize": 110, "labelFontSize": 13.5, "strokeColor": "black", "padding": 3, "columnPadding": 14, "labelOffset": 6, "symbolStrokeWidth": 1.2}}}},
    {"data": {"name": "G"}, "mark": {"type": "tick", "size": 6, "thickness": 1.2}, "encoding": {"x": {"field": "c", "type": "nominal"}, "xOffset": {"field": "g", "type": "nominal"}, "y": {"field": "lo", "type": "quantitative"}, "color": {"field": "g", "type": "nominal"}}},
    {"data": {"name": "G"}, "mark": {"type": "tick", "size": 6, "thickness": 1.2}, "encoding": {"x": {"field": "c", "type": "nominal"}, "xOffset": {"field": "g", "type": "nominal"}, "y": {"field": "hi", "type": "quantitative"}, "color": {"field": "g", "type": "nominal"}}},
    {"data": {"name": "G"}, "mark": {"type": "bar", "strokeWidth": 1.3},
     "encoding": {"x": {"field": "c", "type": "nominal"}, "xOffset": {"field": "g", "type": "nominal"}, "y": {"field": "q1", "type": "quantitative"}, "y2": {"field": "q3"},
      "fill": {"field": "g", "type": "nominal", "scale": {"domain": ["Control","TBF"], "range": ["#6e6e6e","#c4827a"]}, "legend": {"orient": "none", "legendX": 52, "legendY": 45, "direction": "horizontal", "title": null, "symbolType": "square", "symbolSize": 110, "labelFontSize": 13.5, "strokeColor": "black", "padding": 3, "columnPadding": 14, "labelOffset": 6, "symbolStrokeWidth": 1.2}},
      "stroke": {"field": "g", "type": "nominal", "scale": {"domain": ["Control","TBF"], "range": ["black","#a8282c"]}, "legend": {"orient": "none", "legendX": 52, "legendY": 45, "direction": "horizontal", "title": null, "symbolType": "square", "symbolSize": 110, "labelFontSize": 13.5, "strokeColor": "black", "padding": 3, "columnPadding": 14, "labelOffset": 6, "symbolStrokeWidth": 1.2}}}},
    {"data": {"name": "G"}, "mark": {"type": "tick", "size": 22, "thickness": 1.5}, "encoding": {"x": {"field": "c", "type": "nominal"}, "xOffset": {"field": "g", "type": "nominal"}, "y": {"field": "md", "type": "quantitative"}, "color": {"field": "g", "type": "nominal"}}},
    {"data": {"name": "Glab"}, "transform": [{"filter": "datum.it == 1"}], "mark": {"type": "text", "fontStyle": "italic", "fontSize": 13.5}, "encoding": {"x": {"field": "c", "type": "nominal"}, "y": {"datum": -79.7, "type": "quantitative"}, "text": {"field": "t"}}},
    {"data": {"name": "Glab"}, "transform": [{"filter": "datum.it == 0"}], "mark": {"type": "text", "fontSize": 13.5}, "encoding": {"x": {"field": "c", "type": "nominal"}, "y": {"datum": -79.7, "type": "quantitative"}, "text": {"field": "t"}}},
    {"data": {"name": "one"}, "mark": {"type": "text", "fontWeight": "bold", "fontSize": 10, "align": "left", "dx": -78}, "encoding": {"x": {"datum": "Rin", "type": "nominal"}, "y": {"datum": 231, "type": "quantitative"}, "text": {"value": "G"}}}
   ]},
  {"width": 218, "height": 210,
   "data": {"name": "H1"},
   "layer": [
    {"mark": {"type": "line", "strokeWidth": 1, "color": "black"},
     "encoding": {
      "x": {"field": "c", "type": "quantitative", "scale": {"domain": [-11.2, 253.2], "range": [37, 202], "nice": false, "zero": false}, "axis": {"values": [0,50,100,150,200,250], "format": "d", "labelOverlap": false, "labelFlush": false, "labelBound": false, "offset": -74, "title": "Current injected (pA)"}},
      "y": {"field": "m", "type": "quantitative", "scale": {"domain": [-0.1, 2.05], "range": [134.55, 36.7], "nice": false, "zero": false}, "axis": {"values": [0,1,2], "format": "d", "labelOverlap": false, "offset": -37, "title": "Firing frequency (Hz)"}},
      "detail": {"field": "k", "type": "nominal"}}},
    {"transform": [{"filter": "isValid(datum.lo)"}], "mark": {"type": "rule", "color": "#333333", "strokeWidth": 1},
     "encoding": {"x": {"field": "c", "type": "quantitative"}, "y": {"field": "lo", "type": "quantitative"}, "y2": {"field": "hi"}}},
    {"transform": [{"filter": "isValid(datum.lo)"}], "mark": {"type": "tick", "orient": "horizontal", "size": 5, "thickness": 1, "color": "#333333"},
     "encoding": {"x": {"field": "c", "type": "quantitative"}, "y": {"field": "lo", "type": "quantitative"}}},
    {"transform": [{"filter": "isValid(datum.lo)"}], "mark": {"type": "tick", "orient": "horizontal", "size": 5, "thickness": 1, "color": "#333333"},
     "encoding": {"x": {"field": "c", "type": "quantitative"}, "y": {"field": "hi", "type": "quantitative"}}},
    {"mark": {"type": "point", "filled": true, "size": 22, "stroke": "black", "strokeWidth": 1, "opacity": 1},
     "encoding": {"x": {"field": "c", "type": "quantitative"}, "y": {"field": "m", "type": "quantitative"},
      "fill": {"field": "k", "type": "nominal", "scale": {"domain": ["Baseline","45 min"], "range": ["white","black"]}, "legend": {"orient": "none", "legendX": 57, "legendY": 53, "title": null, "symbolType": "M-1,0L-0.32,0M0.32,0L1,0M0.3,0A0.3,0.3,0,1,1,-0.3,0A0.3,0.3,0,1,1,0.3,0", "symbolSize": 361, "symbolStrokeColor": "black", "symbolStrokeWidth": 1, "labelFontSize": 13, "strokeColor": "black", "padding": 2, "rowPadding": 0, "labelOffset": 3}}}},
    {"data": {"name": "one"}, "mark": {"type": "text", "fontWeight": "bold", "align": "left"}, "encoding": {"x": {"datum": -2, "type": "quantitative"}, "y": {"datum": 1.87, "type": "quantitative"}, "text": {"value": "Riluzole Control"}}},
    {"data": {"name": "one"}, "mark": {"type": "text", "fontWeight": "bold", "fontSize": 10, "align": "left"}, "encoding": {"x": {"datum": -59.3, "type": "quantitative"}, "y": {"datum": 2.593, "type": "quantitative"}, "text": {"value": "H"}}}
   ]},
  {"width": 190, "height": 210,
   "data": {"name": "H2"},
   "layer": [
    {"mark": {"type": "line", "strokeWidth": 1, "color": "#a8282c"},
     "encoding": {
      "x": {"field": "c", "type": "quantitative", "scale": {"domain": [-8, 254], "range": [16, 180.5], "nice": false, "zero": false}, "axis": {"values": [0,50,100,150,200,250], "format": "d", "labelOverlap": false, "labelFlush": false, "labelBound": false, "offset": -74, "title": "Current injected (pA)"}},
      "y": {"field": "m", "type": "quantitative", "scale": {"domain": [-0.15, 3.1], "range": [134.5, 37], "nice": false, "zero": false}, "axis": {"values": [0,1,2,3], "format": "d", "labelOverlap": false, "offset": -16, "title": null}},
      "detail": {"field": "k", "type": "nominal"}}},
    {"transform": [{"filter": "isValid(datum.lo)"}], "mark": {"type": "rule", "color": "#a8282c", "strokeWidth": 1},
     "encoding": {"x": {"field": "c", "type": "quantitative"}, "y": {"field": "lo", "type": "quantitative"}, "y2": {"field": "hi"}}},
    {"transform": [{"filter": "isValid(datum.lo)"}], "mark": {"type": "tick", "orient": "horizontal", "size": 5, "thickness": 1, "color": "#a8282c"},
     "encoding": {"x": {"field": "c", "type": "quantitative"}, "y": {"field": "lo", "type": "quantitative"}}},
    {"transform": [{"filter": "isValid(datum.lo)"}], "mark": {"type": "tick", "orient": "horizontal", "size": 5, "thickness": 1, "color": "#a8282c"},
     "encoding": {"x": {"field": "c", "type": "quantitative"}, "y": {"field": "hi", "type": "quantitative"}}},
    {"mark": {"type": "point", "filled": true, "size": 22, "stroke": "#a8282c", "strokeWidth": 1, "opacity": 1},
     "encoding": {"x": {"field": "c", "type": "quantitative"}, "y": {"field": "m", "type": "quantitative"},
      "fill": {"field": "k", "type": "nominal", "scale": {"domain": ["Baseline","TBF"], "range": ["white","#a8282c"]}, "legend": {"orient": "none", "legendX": 30, "legendY": 57, "title": null, "symbolType": "M-1,0L-0.32,0M0.32,0L1,0M0.3,0A0.3,0.3,0,1,1,-0.3,0A0.3,0.3,0,1,1,0.3,0", "symbolSize": 361, "symbolStrokeColor": "#a8282c", "symbolStrokeWidth": 1, "labelFontSize": 13, "strokeColor": "black", "padding": 2, "rowPadding": 0, "labelOffset": 3}}}},
    {"data": {"name": "one"}, "mark": {"type": "text", "fontWeight": "bold", "align": "left", "color": "#a8282c"}, "encoding": {"x": {"datum": 11, "type": "quantitative"}, "y": {"datum": 2.77, "type": "quantitative"}, "text": {"value": "Riluzole TBF"}}}
   ]}
 ], "spacing": 0, "bounds": "flush", "resolve": {"scale": {"color": "independent", "fill": "independent", "stroke": "independent"}}},
 {"hconcat": [
  {"width": 370, "height": 222,
   "layer": [
    {"data": {"name": "I1b"}, "mark": {"type": "rule", "strokeWidth": 1, "color": "black"},
     "encoding": {
      "x": {"field": "s", "type": "nominal", "scale": {"type": "point", "domain": ["a0","b0","g0","p0","q0","a50","b50","g50","p50","q50","a100","b100","g100","p100","q100","a150","b150","g150","p150","q150","a200","b200","g200","p200","q200","a250","b250","g250","p250","q250"], "range": [41.2, 355.6], "padding": 0},
            "axis": {"values": ["b0","p0","b50","p50","b100","p100","b150","p150","b200","p200","b250","p250"], "labels": false, "domain": false, "tickSize": 10, "offset": -9.5, "title": null}},
      "y": {"field": "lo", "type": "quantitative", "scale": {"domain": [-0.3, 10.1], "range": [212.52, 21.16], "nice": false, "zero": false}, "axis": {"values": [0,2,4,6,8,10], "labelOverlap": false, "offset": -34, "title": "Firing frequency (Hz)"}},
      "y2": {"field": "hi"}}},
    {"data": {"name": "I1b"}, "mark": {"type": "tick", "size": 5, "thickness": 1, "color": "black"}, "encoding": {"x": {"field": "s", "type": "nominal"}, "y": {"field": "lo", "type": "quantitative"}}},
    {"data": {"name": "I1b"}, "mark": {"type": "tick", "size": 5, "thickness": 1, "color": "black"}, "encoding": {"x": {"field": "s", "type": "nominal"}, "y": {"field": "hi", "type": "quantitative"}}},
    {"data": {"name": "I1b"}, "mark": {"type": "bar", "width": 3.5, "fill": "white", "stroke": "black", "strokeWidth": 1}, "encoding": {"x": {"field": "s", "type": "nominal"}, "y": {"field": "q1", "type": "quantitative"}, "y2": {"field": "q3"}}},
    {"data": {"name": "I1"}, "mark": {"type": "rule", "strokeWidth": 1, "color": "black"}, "encoding": {"x": {"datum": "b0", "type": "nominal"}, "x2": {"datum": "p0"}, "y": {"field": "b0", "type": "quantitative"}, "y2": {"field": "p0"}}},
    {"data": {"name": "I1"}, "mark": {"type": "rule", "strokeWidth": 1, "color": "black"}, "encoding": {"x": {"datum": "b50", "type": "nominal"}, "x2": {"datum": "p50"}, "y": {"field": "b50", "type": "quantitative"}, "y2": {"field": "p50"}}},
    {"data": {"name": "I1"}, "mark": {"type": "rule", "strokeWidth": 1, "color": "black"}, "encoding": {"x": {"datum": "b100", "type": "nominal"}, "x2": {"datum": "p100"}, "y": {"field": "b100", "type": "quantitative"}, "y2": {"field": "p100"}}},
    {"data": {"name": "I1"}, "mark": {"type": "rule", "strokeWidth": 1, "color": "black"}, "encoding": {"x": {"datum": "b150", "type": "nominal"}, "x2": {"datum": "p150"}, "y": {"field": "b150", "type": "quantitative"}, "y2": {"field": "p150"}}},
    {"data": {"name": "I1"}, "mark": {"type": "rule", "strokeWidth": 1, "color": "black"}, "encoding": {"x": {"datum": "b200", "type": "nominal"}, "x2": {"datum": "p200"}, "y": {"field": "b200", "type": "quantitative"}, "y2": {"field": "p200"}}},
    {"data": {"name": "I1"}, "mark": {"type": "rule", "strokeWidth": 1, "color": "black"}, "encoding": {"x": {"datum": "b250", "type": "nominal"}, "x2": {"datum": "p250"}, "y": {"field": "b250", "type": "quantitative"}, "y2": {"field": "p250"}}},
    {"data": {"name": "I1"}, "transform": [{"fold": ["b0","p0","b50","p50","b100","p100","b150","p150","b200","p200","b250","p250"], "as": ["s","v"]}],
     "mark": {"type": "point", "filled": true, "size": 32, "stroke": "black", "strokeWidth": 1.2, "opacity": 1},
     "encoding": {"x": {"field": "s", "type": "nominal"}, "y": {"field": "v", "type": "quantitative"},
      "fill": {"field": "s", "type": "nominal", "scale": {"domain": ["b0","p0","b50","p50","b100","p100","b150","p150","b200","p200","b250","p250"], "range": ["white","black","white","black","white","black","white","black","white","black","white","black"]},
       "legend": {"orient": "none", "legendX": 49, "legendY": 38, "values": ["b0","p0"], "labelExpr": "datum.label == 'b0' ? 'Baseline' : '45 min'", "title": null, "symbolType": "M-1,0L-0.32,0M0.32,0L1,0M0.3,0A0.3,0.3,0,1,1,-0.3,0A0.3,0.3,0,1,1,0.3,0", "symbolSize": 400, "symbolStrokeColor": "black", "symbolStrokeWidth": 1, "labelFontSize": 13, "strokeColor": "black", "padding": 2, "rowPadding": 0, "labelOffset": 3}}}},
    {"data": {"name": "one"}, "mark": {"type": "text", "fontWeight": "bold", "align": "left", "dx": -2}, "encoding": {"x": {"datum": "a0", "type": "nominal"}, "y": {"datum": 9.67, "type": "quantitative"}, "text": {"value": "Riluzole Control"}}},
    {"data": {"name": "one"}, "mark": {"type": "text", "fontWeight": "bold", "fontSize": 10, "align": "left", "dx": -38}, "encoding": {"x": {"datum": "a0", "type": "nominal"}, "y": {"datum": 10.98, "type": "quantitative"}, "text": {"value": "I"}}}
   ]},
  {"width": 368, "height": 222,
   "layer": [
    {"data": {"name": "I2b"}, "mark": {"type": "rule", "strokeWidth": 1, "color": "#a8282c"},
     "encoding": {
      "x": {"field": "s", "type": "nominal", "scale": {"type": "point", "domain": ["a0","b0","g0","p0","q0","a50","b50","g50","p50","q50","a100","b100","g100","p100","q100","a150","b150","g150","p150","q150","a200","b200","g200","p200","q200","a250","b250","g250","p250","q250"], "range": [52.2, 365.4], "padding": 0},
            "axis": {"values": ["b0","p0","b50","p50","b100","p100","b150","p150","b200","p200","b250","p250"], "labels": false, "domain": false, "tickSize": 10, "offset": -9.5, "title": null}},
      "y": {"field": "lo", "type": "quantitative", "scale": {"domain": [-0.3, 10.1], "range": [212.52, 21.16], "nice": false, "zero": false}, "axis": {"values": [0,2,4,6,8,10], "labelOverlap": false, "offset": -49, "title": null}},
      "y2": {"field": "hi"}}},
    {"data": {"name": "I2b"}, "mark": {"type": "tick", "size": 5, "thickness": 1, "color": "#a8282c"}, "encoding": {"x": {"field": "s", "type": "nominal"}, "y": {"field": "lo", "type": "quantitative"}}},
    {"data": {"name": "I2b"}, "mark": {"type": "tick", "size": 5, "thickness": 1, "color": "#a8282c"}, "encoding": {"x": {"field": "s", "type": "nominal"}, "y": {"field": "hi", "type": "quantitative"}}},
    {"data": {"name": "I2b"}, "mark": {"type": "bar", "width": 3.5, "fill": "white", "stroke": "#a8282c", "strokeWidth": 1}, "encoding": {"x": {"field": "s", "type": "nominal"}, "y": {"field": "q1", "type": "quantitative"}, "y2": {"field": "q3"}}},
    {"data": {"name": "I2"}, "mark": {"type": "rule", "strokeWidth": 1, "color": "#a8282c"}, "encoding": {"x": {"datum": "b0", "type": "nominal"}, "x2": {"datum": "p0"}, "y": {"field": "b0", "type": "quantitative"}, "y2": {"field": "p0"}}},
    {"data": {"name": "I2"}, "mark": {"type": "rule", "strokeWidth": 1, "color": "#a8282c"}, "encoding": {"x": {"datum": "b50", "type": "nominal"}, "x2": {"datum": "p50"}, "y": {"field": "b50", "type": "quantitative"}, "y2": {"field": "p50"}}},
    {"data": {"name": "I2"}, "mark": {"type": "rule", "strokeWidth": 1, "color": "#a8282c"}, "encoding": {"x": {"datum": "b100", "type": "nominal"}, "x2": {"datum": "p100"}, "y": {"field": "b100", "type": "quantitative"}, "y2": {"field": "p100"}}},
    {"data": {"name": "I2"}, "mark": {"type": "rule", "strokeWidth": 1, "color": "#a8282c"}, "encoding": {"x": {"datum": "b150", "type": "nominal"}, "x2": {"datum": "p150"}, "y": {"field": "b150", "type": "quantitative"}, "y2": {"field": "p150"}}},
    {"data": {"name": "I2"}, "mark": {"type": "rule", "strokeWidth": 1, "color": "#a8282c"}, "encoding": {"x": {"datum": "b200", "type": "nominal"}, "x2": {"datum": "p200"}, "y": {"field": "b200", "type": "quantitative"}, "y2": {"field": "p200"}}},
    {"data": {"name": "I2"}, "mark": {"type": "rule", "strokeWidth": 1, "color": "#a8282c"}, "encoding": {"x": {"datum": "b250", "type": "nominal"}, "x2": {"datum": "p250"}, "y": {"field": "b250", "type": "quantitative"}, "y2": {"field": "p250"}}},
    {"data": {"name": "I2"}, "transform": [{"fold": ["b0","p0","b50","p50","b100","p100","b150","p150","b200","p200","b250","p250"], "as": ["s","v"]}],
     "mark": {"type": "point", "filled": true, "size": 32, "stroke": "#a8282c", "strokeWidth": 1.2, "opacity": 1},
     "encoding": {"x": {"field": "s", "type": "nominal"}, "y": {"field": "v", "type": "quantitative"},
      "fill": {"field": "s", "type": "nominal", "scale": {"domain": ["b0","p0","b50","p50","b100","p100","b150","p150","b200","p200","b250","p250"], "range": ["white","#a8282c","white","#a8282c","white","#a8282c","white","#a8282c","white","#a8282c","white","#a8282c"]},
       "legend": {"orient": "none", "legendX": 56, "legendY": 38, "values": ["b0","p0"], "labelExpr": "datum.label == 'b0' ? 'Baseline' : 'TBF'", "title": null, "symbolType": "M-1,0L-0.32,0M0.32,0L1,0M0.3,0A0.3,0.3,0,1,1,-0.3,0A0.3,0.3,0,1,1,0.3,0", "symbolSize": 400, "symbolStrokeColor": "#a8282c", "symbolStrokeWidth": 1, "labelFontSize": 13, "strokeColor": "black", "padding": 2, "rowPadding": 0, "labelOffset": 3}}}},
    {"data": {"name": "one"}, "mark": {"type": "text", "fontWeight": "bold", "align": "left", "dx": 1, "color": "#a8282c"}, "encoding": {"x": {"datum": "a0", "type": "nominal"}, "y": {"datum": 9.67, "type": "quantitative"}, "text": {"value": "Riluzole TBF"}}}
   ]}
 ], "spacing": 0, "bounds": "flush", "resolve": {"scale": {"color": "independent", "fill": "independent", "stroke": "independent"}}}
]
}
